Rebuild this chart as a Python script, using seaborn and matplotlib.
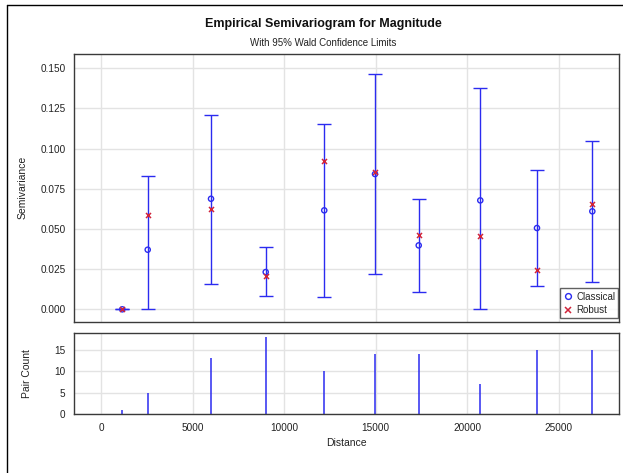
import numpy as np
import pandas as pd
import matplotlib
matplotlib.use("Agg")
import matplotlib.pyplot as plt
from matplotlib.lines import Line2D
import seaborn as sns

# ---- data ----
distance = [1150, 2540, 6000, 8990, 12190, 14965, 17355, 20720, 23820, 26845]
classical = [0.0, 0.0371, 0.0688, 0.0232, 0.0616, 0.0842, 0.0398, 0.0678, 0.0506, 0.0610]
robust = [0.0, 0.0585, 0.0622, 0.0207, 0.0921, 0.0855, 0.0462, 0.0458, 0.0245, 0.0654]
lower = [0.0, 0.0, 0.0159, 0.0081, 0.0075, 0.0222, 0.0106, 0.0, 0.0143, 0.0170]
upper = [0.0, 0.0832, 0.1209, 0.0386, 0.1151, 0.1465, 0.0688, 0.1375, 0.0865, 0.1047]
pair_count = [1, 5, 13, 18, 10, 14, 14, 7, 15, 15]

x_ticks = [0, 5000, 10000, 15000, 20000, 25000]
y_ticks = [0.000, 0.025, 0.050, 0.075, 0.100, 0.125, 0.150]
pc_ticks = [0, 5, 10, 15]

df = pd.DataFrame({"Distance": distance, "Classical": classical, "Robust": robust,
                   "Lower": lower, "Upper": upper, "Pairs": pair_count})

sns.set_style("white")
plt.rcParams["font.family"] = ["Liberation Sans", "DejaVu Sans"]

BLUE = "#2b2bf0"
RED = "#d0243a"
GRID = "#e3e3e3"
SPINE = "#3a3a3a"

W, H = 623, 473
fig = plt.figure(figsize=(W / 100, H / 100), dpi=100)

def fx(px):
    return px / W

def fy(py):
    return 1 - py / H

ax1 = fig.add_axes([fx(74), fy(321.7), fx(619.3 - 74), (321.7 - 54) / H])
ax2 = fig.add_axes([fx(74), fy(414.3), fx(619.3 - 74), (414.3 - 332.7) / H])

xlim = (-1490, 28320)

for ax in (ax1, ax2):
    ax.set_axisbelow(True)
    ax.grid(True, color=GRID, linewidth=1.0)
    for s in ax.spines.values():
        s.set_color(SPINE)
        s.set_linewidth(1.0)
    ax.tick_params(axis="both", direction="out", length=4, width=0.9,
                   color=SPINE, labelsize=7.2, labelcolor="#222222", pad=2)
    ax.set_xlim(*xlim)
    ax.set_xticks(x_ticks)

# ---- top panel ----
err_lo = np.array(df["Classical"]) - np.array(df["Lower"])
err_hi = np.array(df["Upper"]) - np.array(df["Classical"])
ax1.errorbar(df["Distance"], df["Classical"], yerr=[err_lo, err_hi], fmt="none",
             ecolor=BLUE, elinewidth=1.0, capsize=5.0, capthick=1.0, zorder=2)
sns.scatterplot(data=df, x="Distance", y="Classical", ax=ax1, marker="o", s=14,
                facecolor="none", edgecolor=BLUE, linewidth=1.0, zorder=3)
sns.scatterplot(data=df, x="Distance", y="Robust", ax=ax1, marker="x", s=13,
                color=RED, linewidth=1.1, zorder=4)

ax1.set_ylim(-0.0077, 0.1589)
ax1.set_yticks(y_ticks)
ax1.set_yticklabels([f"{v:.3f}" for v in y_ticks])
ax1.tick_params(axis="x", bottom=False, labelbottom=False)
ax1.set_xlabel("")
ax1.set_ylabel("Semivariance", fontsize=7.5, color="#222222", labelpad=9)

handles = [Line2D([], [], linestyle="none", marker="o", markersize=4.2,
                  markerfacecolor="none", markeredgecolor=BLUE, markeredgewidth=1.0),
           Line2D([], [], linestyle="none", marker="x", markersize=4.2,
                  color=RED, markeredgewidth=1.1)]
leg = ax1.legend(handles, ["Classical", "Robust"], loc="lower right",
                 bbox_to_anchor=(0.9985, 0.012), fontsize=7, frameon=True,
                 fancybox=False, edgecolor=SPINE, handlelength=0.9,
                 handletextpad=0.4, borderpad=0.35, labelspacing=0.35,
                 borderaxespad=0.0)
leg.get_frame().set_linewidth(1.0)

# ---- bottom panel ----
ax2.vlines(df["Distance"], 0, df["Pairs"], color=BLUE, linewidth=1.1)
ax2.set_ylim(0, 19)
ax2.set_yticks(pc_ticks)
ax2.set_xticklabels([str(t) for t in x_ticks])
ax2.set_xlabel("Distance", fontsize=7.5, color="#222222", labelpad=4)
ax2.set_ylabel("Pair Count", fontsize=7.5, color="#222222", labelpad=16)

# ---- titles ----
fig.text(fx(323), fy(24), "Empirical Semivariogram for Magnitude", ha="center",
         va="center", fontsize=9, fontweight="bold", color="#111111")
fig.text(fx(323), fy(43), "With 95% Wald Confidence Limits", ha="center",
         va="center", fontsize=7, color="#222222")

# outer frame lines (left and top)
fig.add_artist(Line2D([fx(7), fx(7)], [0, fy(5)], color="black", linewidth=1.0))
fig.add_artist(Line2D([fx(7), 1], [fy(5), fy(5)], color="black", linewidth=1.0))

fig.savefig("out.png", dpi=100)
